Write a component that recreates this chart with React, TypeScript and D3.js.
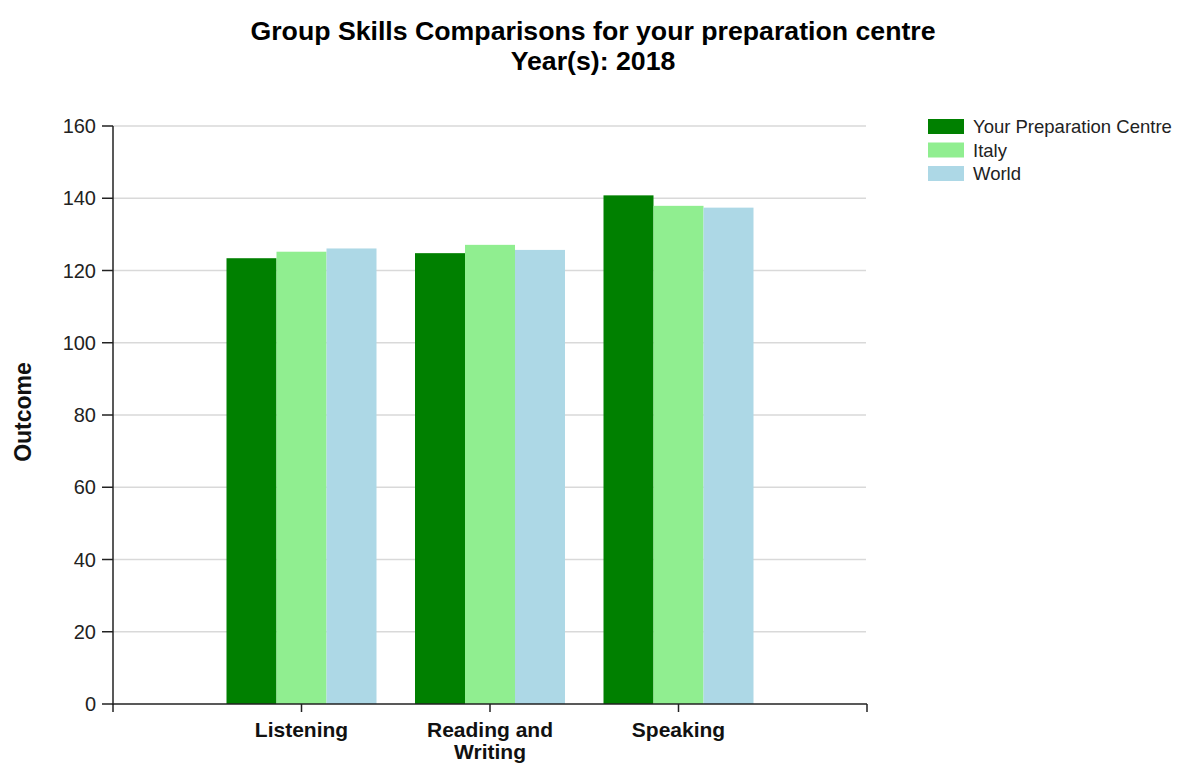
import React from "react";
import * as d3 from "d3";

const categories = ["Listening", "Reading and Writing", "Speaking"];
const categoryLines = [["Listening"], ["Reading and", "Writing"], ["Speaking"]];
const seriesNames = ["Your Preparation Centre", "Italy", "World"];
const seriesColors = ["#008000", "#90EE90", "#ADD8E6"];
const centreValues = [123.4, 124.8, 140.8];
const italyValues = [125.2, 127.1, 137.9];
const worldValues = [126.1, 125.7, 137.4];
const yTicks = [0, 20, 40, 60, 80, 100, 120, 140, 160];

const W = 1180;
const H = 765;
const FONT = "'Liberation Sans', Arial, sans-serif";

export default function App() {
  const series = [centreValues, italyValues, worldValues];
  const x = d3.scaleLinear().domain([0, 4]).range([113, 867]);
  const y = d3.scaleLinear().domain([0, 160]).range([704, 126]);
  const barW = 50;
  const groupW = barW * series.length;

  return (
    <svg width={W} height={H} style={{ position: "absolute", left: 0, top: 0, background: "#fff" }}>
      <text x={593} y={40} textAnchor="middle" fontFamily={FONT} fontWeight="bold" fontSize={26.7} fill="#000">
        Group Skills Comparisons for your preparation centre
      </text>
      <text x={593} y={70} textAnchor="middle" fontFamily={FONT} fontWeight="bold" fontSize={26.7} fill="#000">
        Year(s): 2018
      </text>

      {yTicks.map((t) => (
        <g key={t}>
          {t > 0 && <line x1={113} x2={866} y1={y(t)} y2={y(t)} stroke="#d9d9d9" strokeWidth={1.5} />}
          <line x1={102} x2={113} y1={y(t)} y2={y(t)} stroke="#222" strokeWidth={1.5} />
          <text x={96} y={y(t) + 7} textAnchor="end" fontFamily={FONT} fontSize={20} fill="#222">
            {t}
          </text>
        </g>
      ))}

      {categories.map((c, ci) =>
        series.map((vals, si) => {
          const x0 = x(ci + 1) - groupW / 2 + si * barW;
          return (
            <rect
              key={c + si}
              x={x0}
              y={y(vals[ci])}
              width={barW}
              height={y(0) - y(vals[ci])}
              fill={seriesColors[si]}
            />
          );
        })
      )}

      <line x1={113} x2={113} y1={126} y2={705} stroke="#222" strokeWidth={1.5} />
      <line x1={113} x2={867} y1={704} y2={704} stroke="#222" strokeWidth={1.5} />
      {[0, 1, 2, 3, 4].map((t) => (
        <line key={t} x1={x(t)} x2={x(t)} y1={704} y2={712} stroke="#222" strokeWidth={1.5} />
      ))}
      {categoryLines.map((lines, ci) =>
        lines.map((l, li) => (
          <text
            key={ci + "-" + li}
            x={x(ci + 1)}
            y={737 + li * 22}
            textAnchor="middle"
            fontFamily={FONT}
            fontWeight="bold"
            fontSize={21}
            fill="#111"
          >
            {l}
          </text>
        ))
      )}

      <text
        transform={`translate(31, 412) rotate(-90)`}
        textAnchor="middle"
        fontFamily={FONT}
        fontWeight="bold"
        fontSize={23}
        fill="#111"
      >
        Outcome
      </text>

      {seriesNames.map((n, i) => (
        <g key={n}>
          <rect x={928} y={119 + i * 23.5} width={36} height={15} fill={seriesColors[i]} />
          <text x={973} y={133 + i * 23.5} fontFamily={FONT} fontSize={18.5} fill="#222">
            {n}
          </text>
        </g>
      ))}
    </svg>
  );
}
